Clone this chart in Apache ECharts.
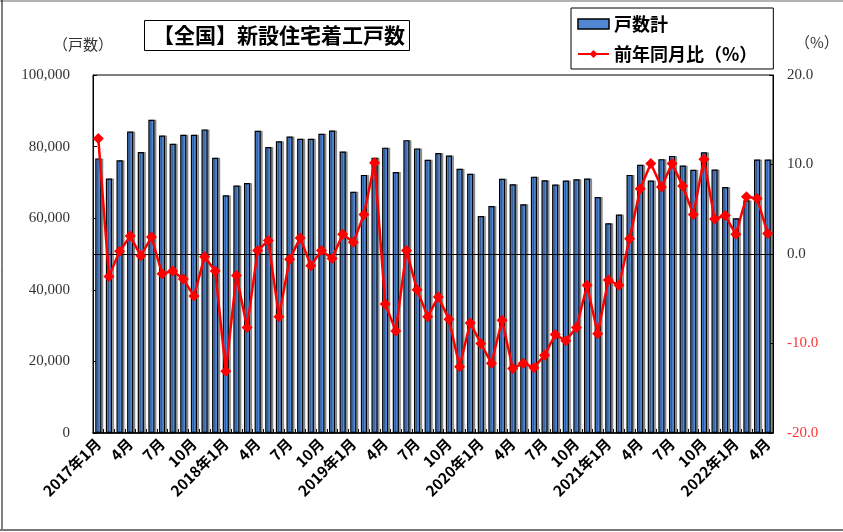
<!DOCTYPE html>
<html>
<head>
<meta charset="utf-8">
<script src="https://cdn.jsdelivr.net/npm/echarts@6/dist/echarts.min.js"></script>
<style>
  html, body { margin: 0; padding: 0; background: #fff; }
  #main { width: 843px; height: 532px; }
</style>
</head>
<body>
<div id="main"></div>
<script>
// 月ラベル 2017年1月～2022年4月
var months = [
  '2017年1月','2月','3月','4月','5月','6月','7月','8月','9月','10月','11月','12月',
  '2018年1月','2月','3月','4月','5月','6月','7月','8月','9月','10月','11月','12月',
  '2019年1月','2月','3月','4月','5月','6月','7月','8月','9月','10月','11月','12月',
  '2020年1月','2月','3月','4月','5月','6月','7月','8月','9月','10月','11月','12月',
  '2021年1月','2月','3月','4月','5月','6月','7月','8月','9月','10月','11月','12月',
  '2022年1月','2月','3月','4月'
];

// 戸数計
var units = [
  76700, 71100, 76200, 84200, 78500, 87500, 83100, 80800, 83300, 83300, 84800, 76900,
  66400, 69100, 69800, 84400, 79900, 81500, 82800, 82200, 82200, 83600, 84500, 78600,
  67400, 72100, 76900, 79700, 72900, 81800, 79500, 76300, 78200, 77500, 73800, 72400,
  60600, 63400, 71000, 69500, 63900, 71600, 70600, 69400, 70500, 70900, 71100, 65900,
  58600, 61000, 72100, 74900, 70500, 76500, 77400, 74700, 73500, 78400, 73600, 68700,
  60000, 65000, 76400, 76400
];

// 前年同月比（%）
var yoy = [
  12.9, -2.5, 0.3, 2.0, -0.2, 1.9, -2.2, -1.9, -2.8, -4.7, -0.3, -1.9,
  -13.1, -2.4, -8.2, 0.4, 1.5, -7.0, -0.6, 1.8, -1.3, 0.4, -0.5, 2.2,
  1.3, 4.4, 10.2, -5.6, -8.6, 0.4, -4.0, -7.0, -4.8, -7.3, -12.6, -7.7,
  -10.0, -12.2, -7.4, -12.8, -12.2, -12.7, -11.3, -9.0, -9.7, -8.2, -3.5, -8.9,
  -2.9, -3.5, 1.7, 7.3, 10.1, 7.5, 10.1, 7.6, 4.4, 10.6, 3.9, 4.3,
  2.2, 6.4, 6.2, 2.3
];

var sansJP = '"Noto Sans CJK JP", "Noto Sans", sans-serif';
var serif = '"Liberation Serif", "DejaVu Serif", serif';

var myChart = echarts.init(document.getElementById('main'));

var option = {
  backgroundColor: '#fff',
  animation: false,
  title: {
    text: '【全国】新設住宅着工戸数',
    left: 144,
    top: 20,
    padding: [5, 5, 5, 9],
    borderColor: '#000',
    borderWidth: 1,
    textStyle: { fontSize: 21, fontWeight: 'bold', color: '#000', fontFamily: sansJP }
  },
  legend: {
    orient: 'vertical',
    left: 571,
    top: 8,
    padding: [7, 16, 6, 6],
    itemGap: 12,
    itemWidth: 31,
    itemHeight: 10,
    borderColor: '#000',
    borderWidth: 1,
    textStyle: { fontSize: 18, fontWeight: 'bold', color: '#000', fontFamily: sansJP },
    data: [
      { name: '戸数計', icon: 'rect', itemStyle: { color: '#5088D6', borderColor: '#000', borderWidth: 1.5 } },
      { name: '前年同月比（%）' }
    ]
  },
  graphic: [
    { type: 'line', shape: { x1: 0, y1: 1, x2: 843, y2: 1 }, style: { stroke: '#999', lineWidth: 1.5 } },
    { type: 'line', shape: { x1: 2, y1: 0, x2: 2, y2: 531 }, style: { stroke: '#000', lineWidth: 1 } },
    { type: 'line', shape: { x1: 0, y1: 530, x2: 843, y2: 530 }, style: { stroke: '#777', lineWidth: 2 } },
    { type: 'text', left: 53, top: 37, style: { text: '（戸数）', fontSize: 15, fill: '#333', fontFamily: sansJP } },
    { type: 'text', left: 795, top: 35, style: { text: '（%）', fontSize: 15, fill: '#333', fontFamily: sansJP } }
  ],
  grid: {
    left: 93,
    right: 70,
    top: 75,
    bottom: 99,
    show: true,
    borderColor: '#000',
    borderWidth: 1,
    containLabel: false
  },
  xAxis: {
    type: 'category',
    data: months,
    boundaryGap: true,
    axisLine: { lineStyle: { color: '#000', width: 1.5 } },
    axisTick: { show: true, inside: true, length: 4, interval: 0, lineStyle: { color: '#000' } },
    axisLabel: {
      interval: 2,
      rotate: 45,
      margin: 8,
      fontSize: 15,
      fontWeight: 'bold',
      color: '#000',
      fontFamily: sansJP
    }
  },
  yAxis: [
    {
      type: 'value',
      min: 0,
      max: 100000,
      interval: 20000,
      axisLine: { show: true, lineStyle: { color: '#000' } },
      axisTick: { show: true, inside: true, length: 4, lineStyle: { color: '#000' } },
      splitLine: { show: false },
      axisLabel: {
        margin: 23,
        fontSize: 15,
        color: '#333',
        fontFamily: serif,
        formatter: function (v) {
          return String(v).replace(/\B(?=(\d{3})+(?!\d))/g, ',');
        }
      }
    },
    {
      type: 'value',
      min: -20,
      max: 20,
      interval: 10,
      position: 'right',
      axisLine: { show: true, lineStyle: { color: '#000' } },
      axisTick: { show: true, inside: true, length: 4, lineStyle: { color: '#000' } },
      splitLine: { show: false },
      axisLabel: {
        margin: 14,
        fontSize: 15,
        fontFamily: serif,
        formatter: function (v) {
          var s = v.toFixed(1);
          return v < 0 ? '{r|' + s + '}' : '{k|' + s + '}';
        },
        rich: {
          r: { color: '#FF3333', fontSize: 15, fontFamily: serif },
          k: { color: '#333', fontSize: 15, fontFamily: serif }
        }
      }
    }
  ],
  series: [
    {
      name: '戸数計',
      type: 'bar',
      yAxisIndex: 0,
      barWidth: '58%',
      data: units,
      itemStyle: {
        color: '#5088D6',
        borderColor: '#000',
        borderWidth: 1.2,
        shadowColor: 'rgba(0,0,0,0.35)',
        shadowOffsetX: 2,
        shadowOffsetY: 0,
        shadowBlur: 0
      }
    },
    {
      name: '前年同月比（%）',
      type: 'line',
      yAxisIndex: 1,
      data: yoy,
      symbol: 'diamond',
      symbolSize: 11,
      showAllSymbol: true,
      z: 5,
      lineStyle: { color: '#FF0000', width: 2.5 },
      itemStyle: { color: '#FF0000' },
      markLine: {
        silent: true,
        symbol: 'none',
        label: { show: false },
        lineStyle: { color: '#000', width: 1, type: 'solid' },
        data: [{ yAxis: 0 }],
        z: 3
      }
    }
  ]
};

myChart.setOption(option);
</script>
</body>
</html>
